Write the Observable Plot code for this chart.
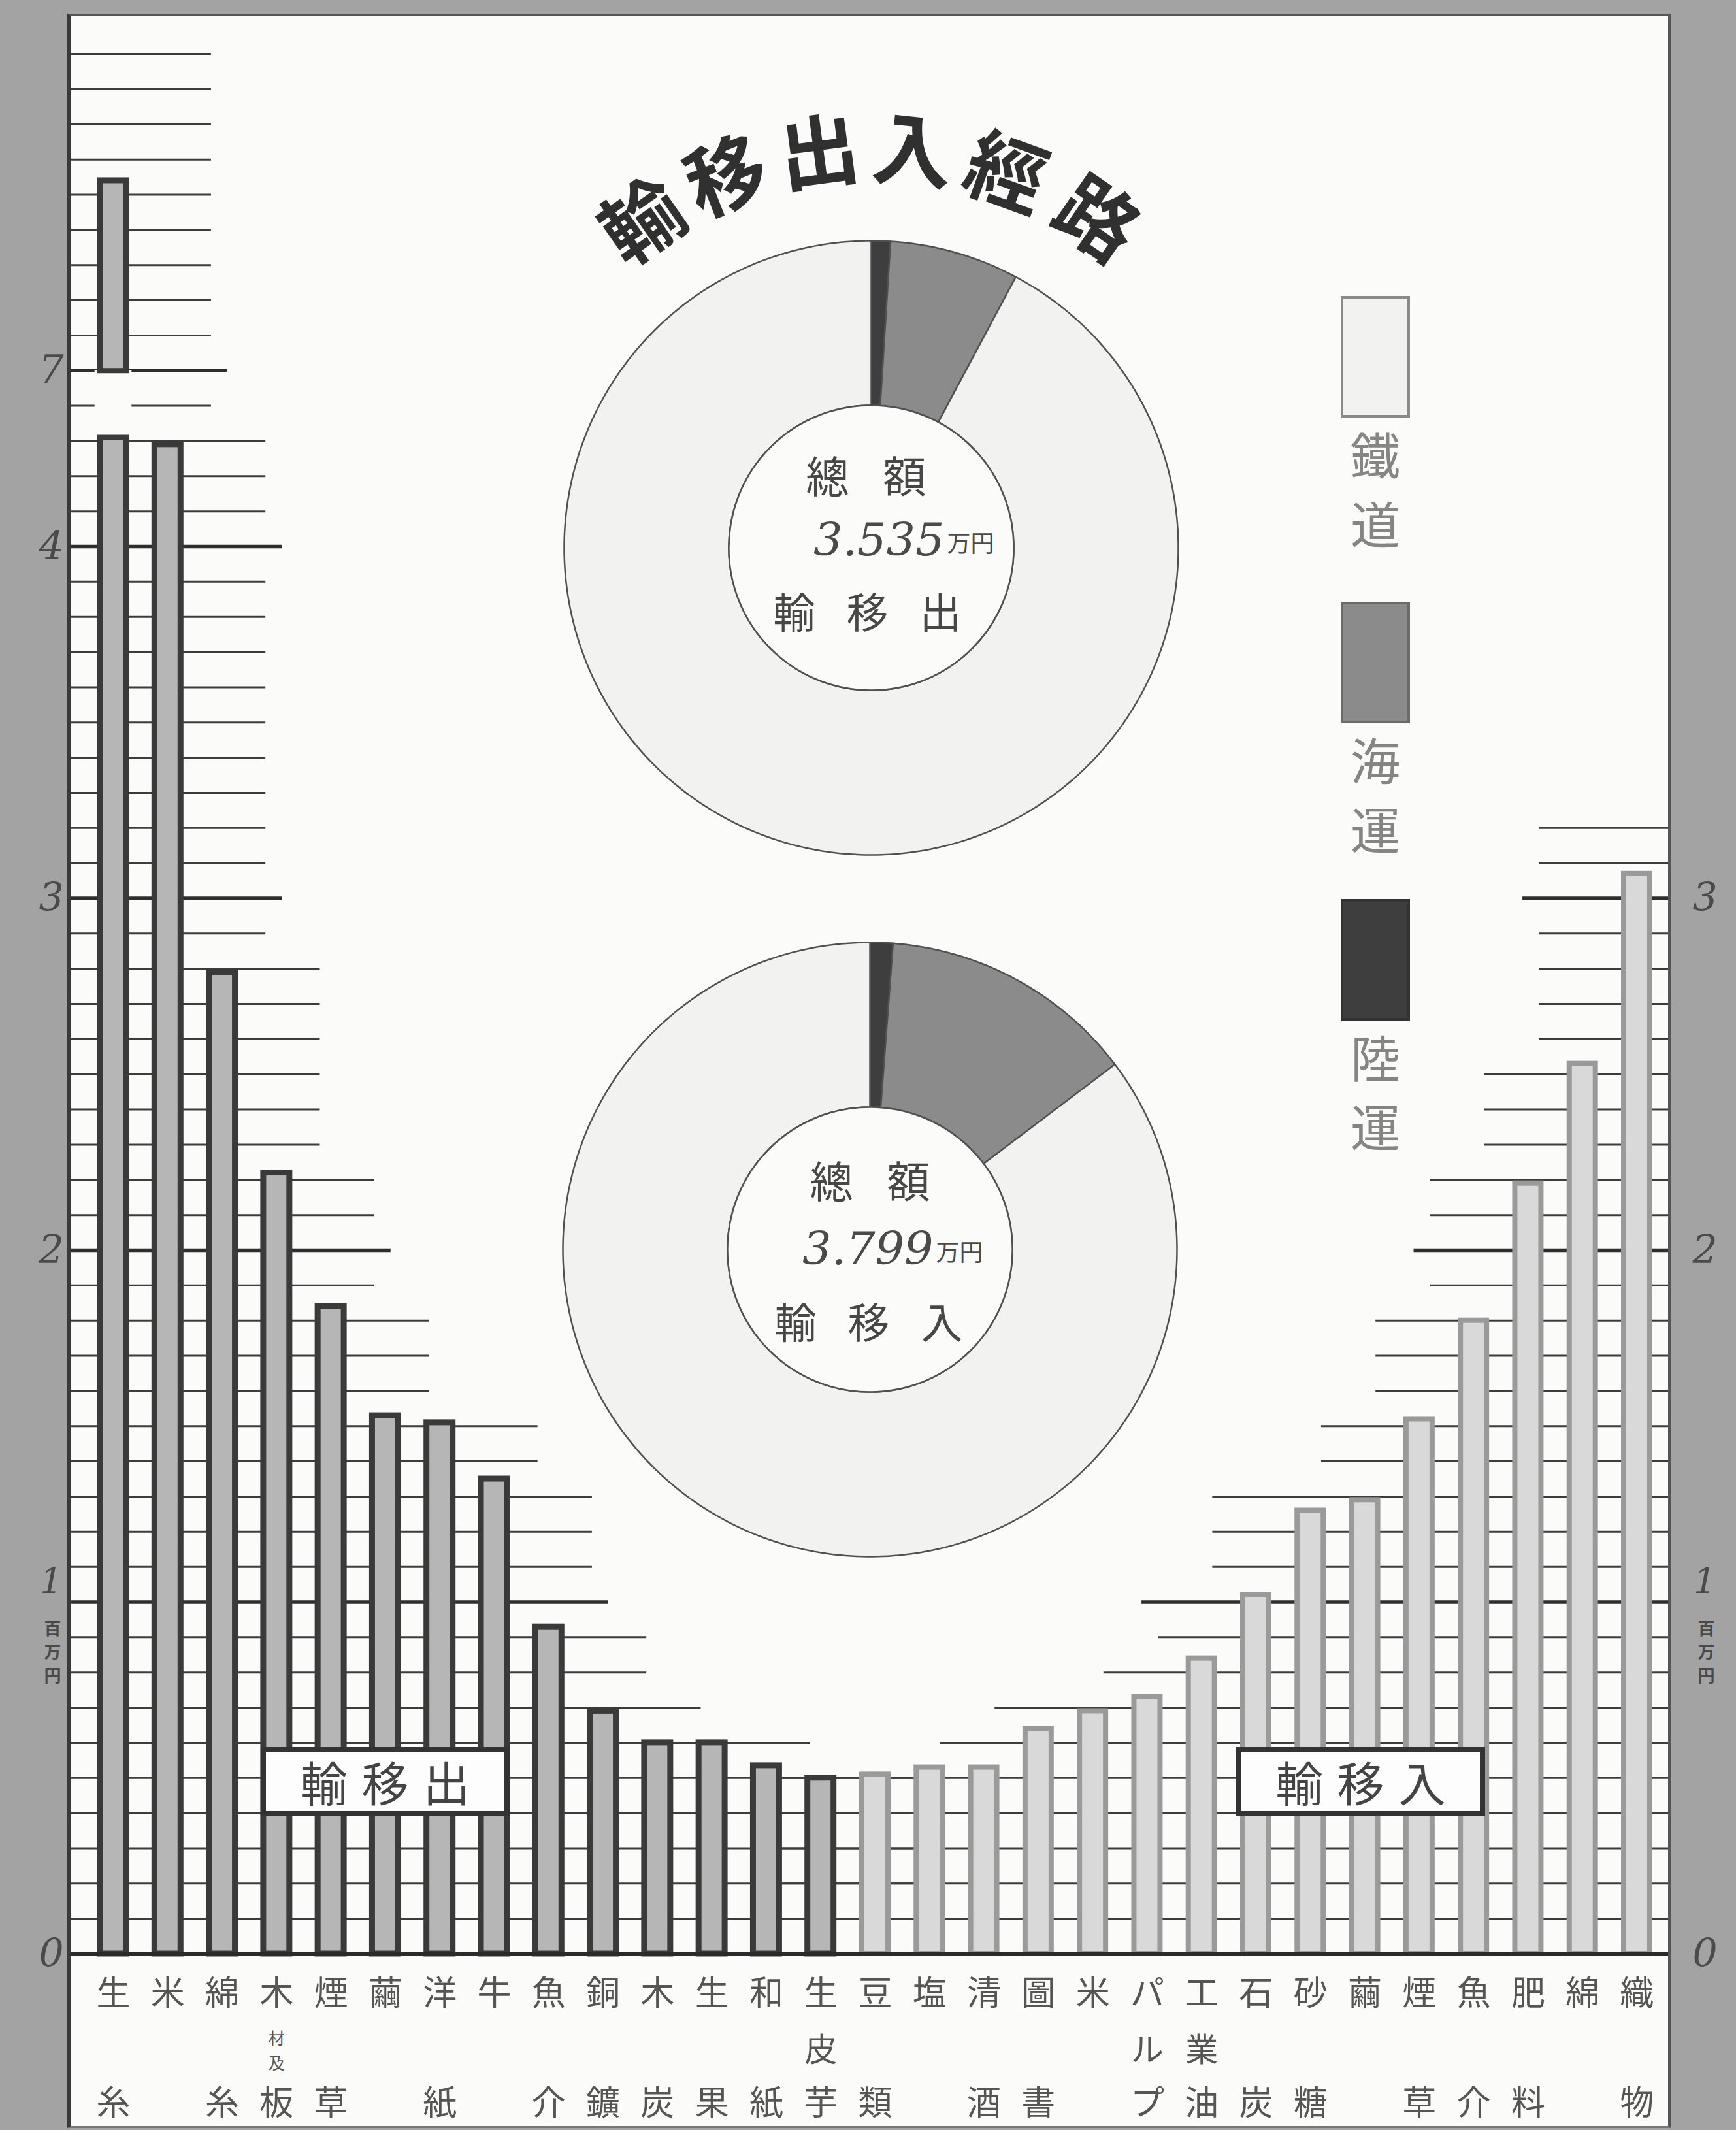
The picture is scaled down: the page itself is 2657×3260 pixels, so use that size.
<!DOCTYPE html>
<html>
<head>
<meta charset="utf-8">
<script src="https://cdn.jsdelivr.net/npm/d3@7"></script>
<script src="https://cdn.jsdelivr.net/npm/@observablehq/plot@0.6"></script>
<style>
html, body { margin: 0; padding: 0; background: #a3a3a3; }
#page { position: relative; width: 2657px; height: 3260px; background: #a3a3a3; overflow: hidden;
  font-family: "Noto Sans CJK JP", "Noto Sans", sans-serif; }
#paper { position: absolute; left: 103px; top: 21px; width: 2454px; height: 3236px; background: #fbfbfa;
  border-left: 6px solid #3a3a3a; border-top: 4px solid #555; border-right: 4px solid #555; border-bottom: 3px solid #777;
  box-sizing: border-box; }
.layer { position: absolute; }
.tag { position: absolute; box-sizing: border-box; border: 8px solid #333; background: #fdfdfd; color: #444;
  font-size: 72px; line-height: 88px; text-align: center; letter-spacing: 22px; padding-left: 22px; }
.legbox { position: absolute; box-sizing: border-box; }
.legch { position: absolute; width: 120px; text-align: center; font-size: 76px; line-height: 76px; color: #858585; }
</style>
</head>
<body>
<div id="page"><div id="paper"></div></div>
<script>
// ---------------- data ----------------
const exportTop    = ["生","米","綿","木","煙","繭","洋","牛","魚","銅","木","生","和","生"];
const exportMid    = ["","","","材及","","","","","","","","","","皮"];
const exportBottom = ["糸","","糸","板","草","","紙","","介","鑛","炭","果","紙","芋"];
const exportValues = [7.54, 4.29, 2.79, 2.22, 1.84, 1.53, 1.51, 1.35, 0.93, 0.69, 0.60, 0.60, 0.535, 0.50];

const importTop    = ["豆","塩","清","圖","米","パ","工","石","砂","繭","煙","魚","肥","綿","織"];
const importMid    = ["","","","","","ル","業","","","","","","","",""];
const importBottom = ["類","","酒","書","","プ","油","炭","糖","","草","介","料","","物"];
const importValues = [0.51, 0.53, 0.53, 0.64, 0.69, 0.73, 0.84, 1.02, 1.26, 1.29, 1.52, 1.80, 2.19, 2.53, 3.07];

const leftTickLabels  = [0, 1, 2, 3, 4, 7];
const rightTickLabels = [0, 1, 2, 3];
const unitLabel = "百万円";

const modes      = ["鐵道", "海運", "陸運"];
const modeColors = ["#f2f2f1", "#8b8b8b", "#3e3e3e"];
const sliceOrder   = ["陸運", "海運", "鐵道"];
const exportShares = [1.0, 6.8, 92.2];
const importShares = [1.2, 13.5, 85.3];
const exportTotal = "3.535", importTotal = "3.799";
const totalWord = "總額", yenUnit = "万円";
const exportWord = "輸移出", importWord = "輸移入";
const titleText = "輸移出入經路";

// ---------------- layout ----------------
const W = 2657, H = 3260;
const frameLeft = 108, frameRight = 2553, frameTop = 22, baseY = 2990;
const unitPx = 538.5;
const firstBarX = 173, lastBarX = 2505, nSlots = 28;
const slotPx = (lastBarX - firstBarX) / nSlots;
const xAt = px => (px - firstBarX) / slotPx;   // pixel -> slot units
const axisBreak = [4.4, 6.9];     // collapsed part of the value axis
const breakGap = [4.31, 7.0];     // white gap in the broken bar
const CJK = "Noto Sans CJK JP";
const NUM = "DejaVu Serif";
const paper = "#fbfbfa";

const nExp = exportValues.length;
const bars = [
  ...exportValues.map((v, i) => ({i, v})),
  ...importValues.map((v, j) => ({i: j + nExp, v}))
];
const expBars = bars.slice(0, nExp), impBars = bars.slice(nExp);
const labelRows = [
  ...exportTop.map((t, i) => ({i, top: t, mid: exportMid[i], bot: exportBottom[i]})),
  ...importTop.map((t, j) => ({i: j + nExp, top: t, mid: importMid[j], bot: importBottom[j]}))
];
// small stacked middle characters, one row per character
const smallMid = labelRows.filter(d => d.mid.length > 1).flatMap(d => d.mid.split("").map((c, k) => ({i: d.i, c, k})));
const unitChars = unitLabel.split("").map((c, k) => ({c, k}));

const levelsLeft = [...d3.range(1, 45).map(k => k / 10), ...d3.range(70, 80).map(k => k / 10)];
const levelsRight = d3.range(1, 33).map(k => k / 10);
const isMajor = v => Math.abs(v - Math.round(v)) < 1e-6;
const lastExportAt = v => { let k = 0; exportValues.forEach((val, i) => { if (val >= v - 0.04) k = i; }); return k; };
const firstImportAt = v => { let k = importValues.length - 1; for (let j = importValues.length - 1; j >= 0; j--) if (importValues[j] >= v - 0.04) k = j; return k + nExp; };
const reach = 1.8, half = 0.24;
const leftEdge = xAt(frameLeft), rightEdge = xAt(frameRight);

const txt = (o) => Object.assign({fontFamily: CJK, fill: "#555", textAnchor: "middle", lineAnchor: "middle", stroke: "none"}, o);
const numStyle = {fontSize: 60, fontFamily: NUM, fontStyle: "italic", fill: "#4a4a4a"};
const unitMarks = (anchor, dx) => unitChars.map(u => Plot.text([1], txt({y: d => d, text: () => u.c, frameAnchor: anchor, dx, dy: 42 + u.k * 36, fontSize: 26, fill: "#4a4a4a", fontWeight: "bold"})));

const mainPlot = Plot.plot({
  width: W, height: H,
  marginLeft: frameLeft, marginRight: W - frameRight, marginTop: frameTop, marginBottom: H - baseY,
  style: "background: transparent; max-width: none; overflow: visible;",
  x: {type: "linear", domain: [0, nSlots], range: [firstBarX, lastBarX], axis: null},
  y: {type: "linear", domain: [0, axisBreak[0], axisBreak[1], 8.0],
      range: [baseY, baseY - 4.4 * unitPx, baseY - 4.4 * unitPx, baseY - 5.5 * unitPx], axis: null},
  marks: [
    // grid lines (left: exports, right: imports)
    Plot.ruleY(levelsLeft.filter(v => !isMajor(v)), {y: d => d, x1: () => leftEdge, x2: d => lastExportAt(d) + reach, stroke: "#3c3c3c", strokeWidth: 3}),
    Plot.ruleY(levelsLeft.filter(isMajor), {y: d => d, x1: () => leftEdge, x2: d => lastExportAt(d) + reach + 0.3, stroke: "#2e2e2e", strokeWidth: 5.5}),
    Plot.ruleY(levelsRight.filter(v => !isMajor(v)), {y: d => d, x1: d => firstImportAt(d) - reach, x2: () => rightEdge, stroke: "#3c3c3c", strokeWidth: 3}),
    Plot.ruleY(levelsRight.filter(isMajor), {y: d => d, x1: d => firstImportAt(d) - reach - 0.3, x2: () => rightEdge, stroke: "#2e2e2e", strokeWidth: 5.5}),
    // bars
    Plot.rect(expBars, {x1: d => d.i - half, x2: d => d.i + half, y1: () => 0, y2: "v", fill: "#b6b6b6", stroke: "#3a3a3a", strokeWidth: 9}),
    Plot.rect(impBars, {x1: d => d.i - half, x2: d => d.i + half, y1: () => 0, y2: "v", fill: "#d9d9d9", stroke: "#9a9a9a", strokeWidth: 8}),
    // axis break in the first bar
    Plot.rect([0], {x1: d => d - 0.34, x2: d => d + 0.34, y1: () => breakGap[0], y2: () => breakGap[1], fill: paper}),
    Plot.ruleY(breakGap, {y: d => d, x1: () => -half - 0.05, x2: () => half + 0.05, stroke: "#3a3a3a", strokeWidth: 8}),
    // baseline
    Plot.ruleY([0], {x1: () => leftEdge, x2: () => rightEdge, stroke: "#2b2b2b", strokeWidth: 6}),
    // category labels
    Plot.text(labelRows, txt({x: "i", text: "top", frameAnchor: "bottom", dy: 62, fontSize: 52})),
    Plot.text(labelRows.filter(d => d.mid.length === 1), txt({x: "i", text: "mid", frameAnchor: "bottom", dy: 148, fontSize: 50})),
    Plot.text(smallMid.filter(d => d.k === 0), txt({x: "i", text: "c", frameAnchor: "bottom", dy: 130, fontSize: 25})),
    Plot.text(smallMid.filter(d => d.k === 1), txt({x: "i", text: "c", frameAnchor: "bottom", dy: 168, fontSize: 25})),
    Plot.text(labelRows, txt({x: "i", text: "bot", frameAnchor: "bottom", dy: 230, fontSize: 52})),
    // value axis labels
    Plot.text(leftTickLabels.filter(d => d !== 1), txt(Object.assign({y: d => d, text: d => String(d), frameAnchor: "left", dx: -30}, numStyle))),
    Plot.text([1], txt(Object.assign({y: d => d, text: d => String(d), frameAnchor: "left", dx: -30, dy: -30}, numStyle, {fontSize: 54}))),
    ...unitMarks("left", -28),
    Plot.text(rightTickLabels.filter(d => d !== 1), txt(Object.assign({y: d => d, text: d => String(d), frameAnchor: "right", dx: 56}, numStyle))),
    Plot.text([1], txt(Object.assign({y: d => d, text: d => String(d), frameAnchor: "right", dx: 56, dy: -30}, numStyle, {fontSize: 54}))),
    ...unitMarks("right", 58)
  ]
});
mainPlot.classList.add("layer");
mainPlot.style.left = "0px"; mainPlot.style.top = "0px";
document.getElementById("page").appendChild(mainPlot);

// ---------------- donuts ----------------
const R = 470, innerRatio = 0.464, PS = 1400;
function slicePoints(shares) {
  const total = d3.sum(shares);
  const pts = [];
  let a0 = 0;
  shares.forEach((s, k) => {
    const a1 = a0 + 360 * s / total;
    const n = Math.max(2, Math.ceil(a1 - a0));
    const mode = sliceOrder[k];
    for (let t = 0; t <= n; t++) { const a = (a0 + (a1 - a0) * t / n) * Math.PI / 180; pts.push({mode, x: Math.sin(a), y: Math.cos(a)}); }
    for (let t = n; t >= 0; t--) { const a = (a0 + (a1 - a0) * t / n) * Math.PI / 180; pts.push({mode, x: innerRatio * Math.sin(a), y: innerRatio * Math.cos(a)}); }
    a0 = a1;
  });
  return pts;
}
function spaced(str, dx, dy, pitch, o) {
  const chars = str.split("");
  return chars.map((c, k) => Plot.text([c], txt(Object.assign({text: d => d, frameAnchor: "middle", dx: dx + (k - (chars.length - 1) / 2) * pitch, dy}, o))));
}
function donut(shares, total, word, opt) {
  const marks = [
    Plot.line(slicePoints(shares), {x: "x", y: "y", z: "mode", fill: "mode", stroke: "#505050", strokeWidth: 2.5, curve: "linear-closed"}),
    Plot.dot([0], {x: () => 0, y: () => 0, r: R * innerRatio, fill: paper, stroke: "#505050", strokeWidth: 2.5}),
    ...spaced(totalWord, opt.wordDx, opt.wordDy, 118, {fontSize: 66, fill: "#474747"}),
    Plot.text([total], txt({text: d => d, frameAnchor: "middle", dx: opt.numEnd, dy: opt.numDy, textAnchor: "end", fontSize: 70, fontFamily: NUM, fontStyle: "italic", fill: "#4a4a4a", fontWeight: "300"})),
    Plot.text([yenUnit], txt({text: d => d, frameAnchor: "middle", dx: opt.numEnd + 4, dy: opt.numDy + 6, textAnchor: "start", fontSize: 36, fill: "#4a4a4a"})),
    ...spaced(word, opt.word2Dx, opt.word2Dy, 112, {fontSize: 64, fill: "#474747"})
  ];
  if (opt.title) {
    const tr = 605 / R;
    marks.push(Plot.text(titleText.split("").map((c, k) => ({c, a: opt.title[k]})),
      txt({x: d => tr * Math.sin(d.a * Math.PI / 180), y: d => tr * Math.cos(d.a * Math.PI / 180), rotate: d => d.a, text: "c", fontSize: 122, fill: "#303030", fontWeight: "bold"})));
  }
  const p = Plot.plot({
    width: PS, height: PS, margin: 0,
    style: "background: transparent; max-width: none; overflow: visible;",
    x: {domain: [-1, 1], range: [PS / 2 - R, PS / 2 + R], axis: null},
    y: {domain: [-1, 1], range: [PS / 2 + R, PS / 2 - R], axis: null},
    r: {type: "identity"},
    color: {domain: modes, range: modeColors},
    marks
  });
  p.classList.add("layer");
  p.style.left = (opt.cx - PS / 2) + "px"; p.style.top = (opt.cy - PS / 2) + "px";
  document.getElementById("page").appendChild(p);
}
donut(exportShares, exportTotal, exportWord, {cx: 1333, cy: 838, wordDx: -8, wordDy: -106, numEnd: 112, numDy: -11, word2Dx: -6, word2Dy: 102,
  title: [-35, -21.3, -7.5, 6, 19.8, 34.5]});
donut(importShares, importTotal, importWord, {cx: 1331, cy: 1912, wordDx: 0, wordDy: -101, numEnd: 97, numDy: 0, word2Dx: -2, word2Dy: 115});

// ---------------- legend & tags ----------------
const page = document.getElementById("page");
const legendTops = [453, 921, 1376];
const legendBorders = ["#8a8a8a", "#6a6a6a", "#333"];
modes.forEach((m, k) => {
  const b = document.createElement("div");
  b.className = "legbox";
  Object.assign(b.style, {left: "2052px", top: legendTops[k] + "px", width: "106px", height: "186px",
    background: modeColors[k], border: "4px solid " + legendBorders[k]});
  page.appendChild(b);
  m.split("").forEach((c, j) => {
    const t = document.createElement("div");
    t.className = "legch"; t.textContent = c;
    Object.assign(t.style, {left: (2105 - 60) + "px", top: (legendTops[k] + 186 + 16 + j * 106) + "px"});
    page.appendChild(t);
  });
});
[[exportWord, 399], [importWord, 1892]].forEach(([w, x]) => {
  const t = document.createElement("div");
  t.className = "tag"; t.textContent = w;
  Object.assign(t.style, {left: x + "px", top: "2674px", width: "381px", height: "106px"});
  page.appendChild(t);
});
</script>
</body>
</html>
